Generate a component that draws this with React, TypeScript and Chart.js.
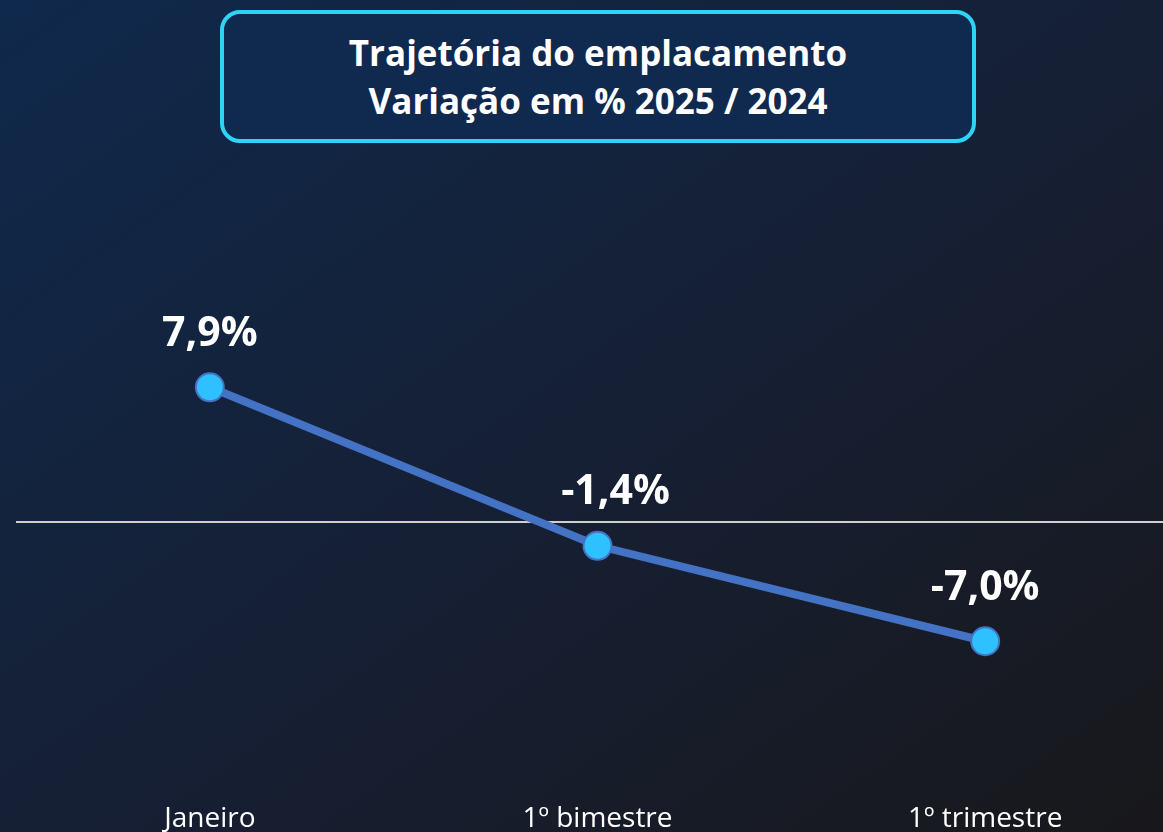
import React, { useEffect, useRef } from "react";
import { Chart, registerables } from "chart.js";

Chart.register(...registerables);

const categories = ["Janeiro", "1º bimestre", "1º trimestre"];
const values = [7.9, -1.4, -7.0];
const valueLabels = ["7,9%", "-1,4%", "-7,0%"];
const titleLines = ["Trajetória do emplacamento", "Variação em % 2025 / 2024"];

const FONT = "'Open Sans', Lato, sans-serif";
const labelShiftX = [0, 18, 0];

const valueLabelPlugin = {
  id: "valueLabels",
  afterDatasetsDraw(chart: any) {
    const ctx = chart.ctx;
    const meta = chart.getDatasetMeta(0);
    ctx.save();
    ctx.fillStyle = "#ffffff";
    ctx.font = `bold 41px ${FONT}`;
    ctx.textAlign = "center";
    ctx.textBaseline = "middle";
    meta.data.forEach((pt: any, i: number) => {
      ctx.fillText(valueLabels[i], pt.x + labelShiftX[i], pt.y - 53);
    });
    ctx.restore();
  },
};

export default function App() {
  const ref = useRef<HTMLCanvasElement>(null);
  useEffect(() => {
    document.body.style.margin = "0";
    const chart = new Chart(ref.current!, {
      type: "line",
      data: {
        labels: categories,
        datasets: [
          {
            data: values,
            borderColor: "#4472c4",
            borderWidth: 8,
            pointRadius: 14,
            pointHoverRadius: 14,
            pointBackgroundColor: "#2ec0ff",
            pointBorderColor: "#4472c4",
            pointBorderWidth: 2,
            tension: 0,
            clip: false as any,
          },
        ],
      },
      options: {
        responsive: false,
        animation: false,
        layout: { padding: { left: 16, top: 150, right: 0, bottom: 0 } },
        plugins: { legend: { display: false }, tooltip: { enabled: false }, title: { display: false } },
        scales: {
          x: {
            offset: true,
            grid: { display: false, drawTicks: false },
            border: { display: false },
            ticks: {
              color: "#ffffff",
              font: { family: FONT, size: 28 },
              padding: 4,
              maxRotation: 0,
              autoSkip: false,
            },
          },
          y: {
            min: -16.22,
            max: 21.82,
            border: { display: false },
            ticks: { display: false },
            afterBuildTicks: (scale: any) => {
              scale.ticks = [{ value: 0 }];
            },
            grid: {
              drawTicks: false,
              color: (c: any) => (c.tick && c.tick.value === 0 ? "#cfcfcf" : "transparent"),
              lineWidth: 2,
            },
          },
        },
      },
      plugins: [valueLabelPlugin],
    });
    return () => chart.destroy();
  }, []);

  return (
    <div
      style={{
        position: "fixed",
        left: 0,
        top: 0,
        width: 1163,
        height: 832,
        overflow: "hidden",
        background: "linear-gradient(to bottom right, #0f294c 0%, #161f33 55%, #18181b 100%)",
      }}
    >
      <canvas ref={ref} width={1195} height={840} style={{ position: "absolute", left: 0, top: 0 }} />
      <div
        style={{
          position: "absolute",
          left: 220,
          top: 10,
          width: 748,
          height: 125,
          border: "4px solid #2fd3f6",
          borderRadius: 20,
          background: "#10294f",
          display: "flex",
          flexDirection: "column",
          justifyContent: "center",
          alignItems: "center",
          color: "#ffffff",
          fontFamily: FONT,
          fontWeight: 700,
          fontSize: 35,
          lineHeight: "48px",
        }}
      >
        {titleLines.map((t) => (
          <div key={t}>{t}</div>
        ))}
      </div>
    </div>
  );
}
